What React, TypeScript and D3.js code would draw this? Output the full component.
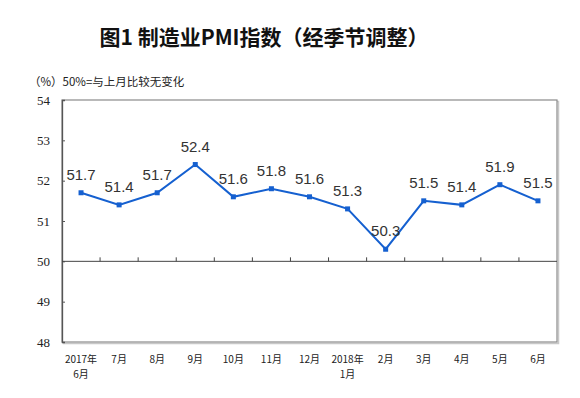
import * as d3 from "d3";
import { useRef, useEffect } from "react";

// 月份标签（两行）
const months = [
  ["2017年", "6月"], ["7月"], ["8月"], ["9月"], ["10月"], ["11月"], ["12月"],
  ["2018年", "1月"], ["2月"], ["3月"], ["4月"], ["5月"], ["6月"],
];
const pmi = [51.7, 51.4, 51.7, 52.4, 51.6, 51.8, 51.6, 51.3, 50.3, 51.5, 51.4, 51.9, 51.5];
const yTicks = [48, 49, 50, 51, 52, 53, 54];

const W = 580;
const H = 398;
const margin = { top: 100, right: 23, bottom: 56, left: 62 };

const App = () => {
  const ref = useRef<SVGSVGElement>(null);

  useEffect(() => {
    const svg = d3.select(ref.current);
    svg.selectAll("*").remove();

    const iw = W - margin.left - margin.right;
    const ih = H - margin.top - margin.bottom;
    const keys = months.map((m, i) => String(i));

    const x = d3.scaleBand().domain(keys).range([0, iw]);
    const y = d3.scaleLinear().domain([48, 54]).range([ih, 0]);

    // 标题
    svg.append("text")
      .attr("x", 264).attr("y", 45)
      .attr("text-anchor", "middle")
      .style("font-family", "'Noto Sans CJK SC', sans-serif")
      .style("font-weight", "bold")
      .style("font-size", "21px")
      .style("fill", "#111")
      .text("图1 制造业PMI指数（经季节调整）");

    svg.append("text")
      .attr("x", 29).attr("y", 86)
      .style("font-family", "'Noto Sans CJK SC', sans-serif")
      .style("font-size", "11.5px")
      .style("fill", "#222")
      .text("（%）50%=与上月比较无变化");

    const g = svg.append("g").attr("transform", `translate(${margin.left},${margin.top})`);

    // 外框（带阴影）
    g.append("rect")
      .attr("x", 1.5).attr("y", 1.5).attr("width", iw).attr("height", ih)
      .attr("fill", "none").attr("stroke", "#c8c8c8").attr("stroke-width", 1.5);
    g.append("rect")
      .attr("x", 0).attr("y", 0).attr("width", iw).attr("height", ih)
      .attr("fill", "#fff").attr("stroke", "#8a8a8a").attr("stroke-width", 1.2);

    // y轴
    const yAxis = g.append("g")
      .call(d3.axisLeft(y).tickValues(yTicks).tickSize(-3).tickPadding(12).tickFormat(d3.format("d")));
    yAxis.select(".domain").attr("stroke", "#555").attr("stroke-width", 1.3);
    yAxis.selectAll(".tick line").attr("stroke", "#555");
    yAxis.selectAll("text")
      .style("font-family", "'Liberation Serif', serif")
      .style("font-size", "13px")
      .style("fill", "#222");

    // 50 线 + 刻度
    const y50 = y(50);
    g.append("line")
      .attr("x1", 0).attr("x2", iw).attr("y1", y50).attr("y2", y50)
      .attr("stroke", "#444").attr("stroke-width", 1);
    keys.slice(1).forEach((k) => {
      const xx = x(k)!;
      g.append("line")
        .attr("x1", xx).attr("x2", xx).attr("y1", y50).attr("y2", y50 - 4)
        .attr("stroke", "#444");
    });

    // x 标签
    const lab = g.append("g");
    months.forEach((m, i) => {
      const cx = x(String(i))! + x.bandwidth() / 2;
      m.forEach((s, j) => {
        lab.append("text")
          .attr("x", cx).attr("y", ih + 21 + j * 15)
          .attr("text-anchor", "middle")
          .style("font-family", "'Noto Sans CJK SC', sans-serif")
          .style("font-size", "10px")
          .style("fill", "#222")
          .text(s);
      });
    });

    // 折线
    const line = d3.line<number>()
      .x((d, i) => x(String(i))! + x.bandwidth() / 2)
      .y((d) => y(d));
    g.append("path")
      .datum(pmi)
      .attr("d", line)
      .attr("fill", "none")
      .attr("stroke", "#1560d0")
      .attr("stroke-width", 2);

    g.selectAll(".pt")
      .data(pmi)
      .enter()
      .append("rect")
      .attr("class", "pt")
      .attr("x", (d, i) => x(String(i))! + x.bandwidth() / 2 - 2.5)
      .attr("y", (d) => y(d) - 2.5)
      .attr("width", 5).attr("height", 5)
      .attr("fill", "#1560d0");

    g.selectAll(".val")
      .data(pmi)
      .enter()
      .append("text")
      .attr("class", "val")
      .attr("x", (d, i) => x(String(i))! + x.bandwidth() / 2)
      .attr("y", (d) => y(d) - 13)
      .attr("text-anchor", "middle")
      .style("font-family", "'Liberation Sans', Arial, sans-serif")
      .style("font-size", "15px")
      .style("fill", "#333")
      .text((d) => d.toFixed(1));
  }, []);

  return (
    <svg ref={ref} width={W} height={H} style={{ position: "absolute", left: 0, top: 0, background: "#fff" }}></svg>
  );
};

export default App;
